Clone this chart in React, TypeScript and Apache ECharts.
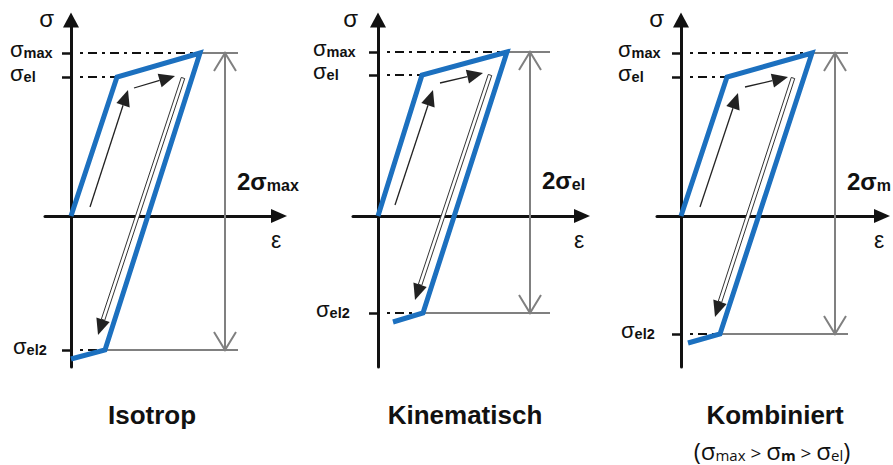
import React, { useEffect, useRef } from 'react';
import * as echarts from 'echarts';

// ---------- data (strain ε, stress σ; origin = axis crossing) ----------
const panelTitles = ['Isotrop', 'Kinematisch', 'Kombiniert'];

// hysteresis path: origin -> yield (σel) -> peak (σmax) -> reverse yield (σel2) -> beyond
const isotropCurve = [[0, 0], [46, 139], [129, 163], [34, -134], [0, -143]];
const kinematischCurve = [[0, 0], [44, 141], [129, 164], [45, -97], [15, -106]];
const kombiniertCurve = [[0, 0], [46, 139], [131, 163], [39, -118], [7, -127]];

// loading-direction arrows [ε start, σ start, ε end, σ end]
const isotropArrows = [[19, 9, 57, 126], [63, 128, 104, 140], [112, 138, 27, -119]];
const kinematischArrows = [[17, 11, 55, 126], [62, 133, 105, 143], [112, 141, 37, -84]];
const kombiniertArrows = [[19, 9, 57, 123], [64, 129, 107, 139], [112, 138, 34, -101]];

// stress-range dimension (2σ...) : strain of the arrow, strain where the helper lines end, label stress
const rangeArrowStrain = [154, 152, 154];
const rangeLineEndStrain = [167, 172, 167];
const rangeLabelStress = [35, 36, 35];
const rangeLabelSub = ['max', 'el', 'm'];

// tick labels on the stress axis (σmax, σel, σel2)
const levelSubs = ['max', 'el', 'el2'];

// axis extents
const strainMin = [-26, -25, -24];
const strainMax = [208, 204, 201];
const stressMin = -151;
const stressMax = 196;

const curves = [isotropCurve, kinematischCurve, kombiniertCurve];
const arrows = [isotropArrows, kinematischArrows, kombiniertArrows];

// ---------- styling / layout ----------
const BLUE = '#1c70bf';
const GRAY = '#808080';
const INK = '#111111';
const FONT = 'Liberation Sans, Arial, sans-serif';
const gridLeft = [45, 353, 657];
const gridTop = 20;
const labelOffset = [61, 65, 63]; // px left of the stress axis where tick labels start
const nameRightPad = [17, 20, 17];
const titleX = [152, 465, 775];
const titleY = 415;

function levelsOf(c: number[][]) {
  // σmax, σel, σel2 taken from the curve's corner points
  return [c[2][1], c[1][1], c[3][1]];
}

const sigmaRich = {
  s: { fontFamily: FONT, fontSize: 22, fill: INK, verticalAlign: 'top', lineHeight: 22 },
  sub: { fontFamily: FONT, fontSize: 14.5, fontWeight: 'bold', fill: INK, verticalAlign: 'bottom', lineHeight: 14, padding: [12, 0, 0, 0] },
};

function buildOption() {
  const grid: any[] = [];
  const xAxis: any[] = [];
  const yAxis: any[] = [];
  const series: any[] = [];

  for (let i = 0; i < 3; i++) {
    const curve = curves[i];
    const [sMax, sEl, sEl2] = levelsOf(curve);
    const lv = [sMax, sEl, sEl2];
    grid.push({
      left: gridLeft[i],
      top: gridTop,
      width: strainMax[i] - strainMin[i],
      height: stressMax - stressMin,
      containLabel: false,
      outerBoundsMode: 'none',
    });
    xAxis.push({
      type: 'value',
      gridIndex: i,
      min: strainMin[i],
      max: strainMax[i],
      axisLine: {
        onZero: true,
        lineStyle: { color: INK, width: 3 },
        symbol: ['none', 'triangle'],
        symbolSize: [14, 16],
      },
      axisTick: { show: false },
      axisLabel: { show: false },
      splitLine: { show: false },
      name: 'ε',
      nameLocation: 'end',
      nameGap: -3,
      nameTextStyle: {
        fontFamily: FONT,
        fontSize: 23,
        color: INK,
        align: 'center',
        verticalAlign: 'top',
        padding: [12, 0, 0, 0],
      },
    });
    yAxis.push({
      type: 'value',
      gridIndex: i,
      min: stressMin,
      max: stressMax,
      nameMoveOverlap: false,
      axisLine: {
        onZero: true,
        lineStyle: { color: INK, width: 3 },
        symbol: ['none', 'triangle'],
        symbolSize: [16, 15],
      },
      axisTick: {
        show: true,
        customValues: lv,
        length: 9,
        lineStyle: { color: INK, width: 2.5 },
      },
      axisLabel: { show: false },
      splitLine: { show: false },
      name: 'σ',
      nameLocation: 'end',
      nameGap: 2,
      nameTextStyle: {
        fontFamily: FONT,
        fontSize: 24,
        color: INK,
        align: 'right',
        verticalAlign: 'middle',
        padding: [0, nameRightPad[i], 0, 0],
      },
    });

    // dash-dot helper lines from the stress axis to the curve corners, with the σ level labels
    const gap = 9;
    const off = labelOffset[i];
    series.push({
      type: 'custom',
      xAxisIndex: i,
      yAxisIndex: i,
      clip: false,
      z: 2,
      data: [
        [gap, sMax, curve[2][0], sMax],
        [gap, sEl, curve[1][0], sEl],
        [gap, sEl2, curve[3][0], sEl2],
      ],
      renderItem: (params: any, api: any) => {
        const a = api.coord([api.value(0), api.value(1)]);
        const b = api.coord([api.value(2), api.value(3)]);
        const o = api.coord([0, api.value(1)]);
        const k = params.dataIndex;
        return {
          type: 'group',
          children: [
            {
              type: 'line',
              shape: { x1: a[0], y1: a[1], x2: b[0], y2: b[1] },
              style: { stroke: INK, lineWidth: 2, lineDash: [3, 5, 9, 5] },
            },
            {
              type: 'text',
              x: o[0] - off + (k === 2 ? 3 : 0),
              y: o[1] - 4,
              style: {
                text: `{s|σ}{sub|${levelSubs[k]}}`,
                align: 'left',
                verticalAlign: 'middle',
                rich: sigmaRich,
              },
            },
          ],
        };
      },
    });

    // stress range dimension with open arrow heads and label
    series.push({
      type: 'custom',
      xAxisIndex: i,
      yAxisIndex: i,
      clip: false,
      z: 2,
      data: [[rangeArrowStrain[i], sMax, sEl2, rangeLineEndStrain[i], curve[2][0], curve[3][0], rangeLabelStress[i]]],
      renderItem: (params: any, api: any) => {
        const ax = api.value(0);
        const top = api.value(1);
        const bot = api.value(2);
        const endX = api.value(3);
        const peakX = api.value(4);
        const botX = api.value(5);
        const pTop = api.coord([ax, top]);
        const pBot = api.coord([ax, bot]);
        const t1 = api.coord([peakX, top]);
        const t2 = api.coord([endX, top]);
        const b1 = api.coord([botX, bot]);
        const b2 = api.coord([endX, bot]);
        const lab = api.coord([ax, api.value(6)]);
        const st = { stroke: GRAY, lineWidth: 2, fill: 'none' };
        const hw = 11;
        const hh = 18;
        return {
          type: 'group',
          children: [
            { type: 'line', shape: { x1: t1[0], y1: t1[1], x2: t2[0], y2: t2[1] }, style: st },
            { type: 'line', shape: { x1: b1[0], y1: b1[1], x2: b2[0], y2: b2[1] }, style: st },
            { type: 'line', shape: { x1: pTop[0], y1: pTop[1], x2: pBot[0], y2: pBot[1] }, style: st },
            {
              type: 'polyline',
              shape: { points: [[pTop[0] - hw, pTop[1] + hh], [pTop[0], pTop[1]], [pTop[0] + hw, pTop[1] + hh]] },
              style: st,
            },
            {
              type: 'polyline',
              shape: { points: [[pBot[0] - hw, pBot[1] - hh], [pBot[0], pBot[1]], [pBot[0] + hw, pBot[1] - hh]] },
              style: st,
            },
            {
              type: 'text',
              x: lab[0] + 12,
              y: lab[1],
              style: {
                text: `{m|2σ}{sub|${rangeLabelSub[i]}}`,
                align: 'left',
                verticalAlign: 'middle',
                rich: {
                  m: { fontFamily: FONT, fontSize: 24, fontWeight: 'bold', fill: INK, verticalAlign: 'top', lineHeight: 24 },
                  sub: { fontFamily: FONT, fontSize: 16, fontWeight: 'bold', fill: INK, verticalAlign: 'bottom', lineHeight: 16, padding: [23, 0, 0, 0] },
                },
              },
            },
          ],
        };
      },
    });

    // the hysteresis path
    series.push({
      type: 'line',
      xAxisIndex: i,
      yAxisIndex: i,
      data: curve,
      symbol: 'none',
      z: 3,
      lineStyle: { color: BLUE, width: 5, join: 'miter' },
      silent: true,
    });

    // loading-direction arrows
    series.push({
      type: 'custom',
      xAxisIndex: i,
      yAxisIndex: i,
      clip: false,
      z: 4,
      data: arrows[i],
      renderItem: (params: any, api: any) => {
        const p1 = api.coord([api.value(0), api.value(1)]);
        const p2 = api.coord([api.value(2), api.value(3)]);
        const dx = p2[0] - p1[0];
        const dy = p2[1] - p1[1];
        const len = Math.hypot(dx, dy);
        const ux = dx / len;
        const uy = dy / len;
        const nx = -uy;
        const ny = ux;
        const headLen = 16;
        const headW = 7;
        const base = [p2[0] - ux * headLen, p2[1] - uy * headLen];
        const children: any[] = [];
        const ls = { stroke: '#222', lineWidth: 1.3 };
        if (params.dataIndex === 2) {
          const w = 1.8;
          children.push({
            type: 'polygon',
            shape: {
              points: [
                [p1[0] + nx * w, p1[1] + ny * w],
                [base[0] + nx * w, base[1] + ny * w],
                [base[0] - nx * w, base[1] - ny * w],
                [p1[0] - nx * w, p1[1] - ny * w],
              ],
            },
            style: { fill: '#fff', stroke: '#333', lineWidth: 1 },
          });
        } else {
          children.push({ type: 'line', shape: { x1: p1[0], y1: p1[1], x2: base[0], y2: base[1] }, style: ls });
        }
        children.push({
          type: 'polygon',
          shape: {
            points: [
              [p2[0], p2[1]],
              [base[0] + nx * headW, base[1] + ny * headW],
              [base[0] - nx * headW, base[1] - ny * headW],
            ],
          },
          style: { fill: '#222' },
        });
        return { type: 'group', children };
      },
    });
  }

  const graphic: any[] = panelTitles.map((t, i) => ({
    type: 'text',
    x: titleX[i],
    y: titleY,
    style: {
      text: t,
      fontFamily: FONT,
      fontSize: 26,
      fontWeight: 'bold',
      fill: INK,
      align: 'center',
      verticalAlign: 'middle',
      textAlign: 'center',
      textVerticalAlign: 'middle',
    },
  }));
  graphic.push({
    type: 'text',
    x: 772,
    y: 449,
    style: {
      text: '{p|(}{s|σ}{sub|max}{g| > }{s|σ}{subb|m}{g| > }{s|σ}{sub|el}{p|)}',
      align: 'center',
      verticalAlign: 'middle',
      textAlign: 'center',
      textVerticalAlign: 'middle',
      rich: {
        p: { fontFamily: 'Open Sans', fontSize: 24, fill: INK, verticalAlign: 'bottom', lineHeight: 26 },
        s: { fontFamily: 'Open Sans', fontSize: 24, fill: INK, verticalAlign: 'bottom', lineHeight: 22 },
        g: { fontFamily: 'Open Sans', fontSize: 19, fill: INK, verticalAlign: 'bottom', lineHeight: 22 },
        sub: { fontFamily: 'Open Sans', fontSize: 15, fill: INK, verticalAlign: 'bottom', lineHeight: 12 },
        subb: { fontFamily: 'Open Sans', fontSize: 15, fontWeight: 'bold', fill: INK, verticalAlign: 'bottom', lineHeight: 12 },
      },
    },
  });

  return {
    animation: false,
    backgroundColor: '#ffffff',
    grid,
    xAxis,
    yAxis,
    series,
    graphic,
  };
}

export default function App() {
  const ref = useRef<HTMLDivElement>(null);
  useEffect(() => {
    if (!ref.current) return;
    const chart = echarts.init(ref.current, undefined, { renderer: 'svg' });
    chart.setOption(buildOption() as any);
    return () => chart.dispose();
  }, []);
  return (
    <div
      ref={ref}
      style={{ position: 'fixed', left: 0, top: 0, width: 893, height: 465, background: '#fff' }}
    />
  );
}
